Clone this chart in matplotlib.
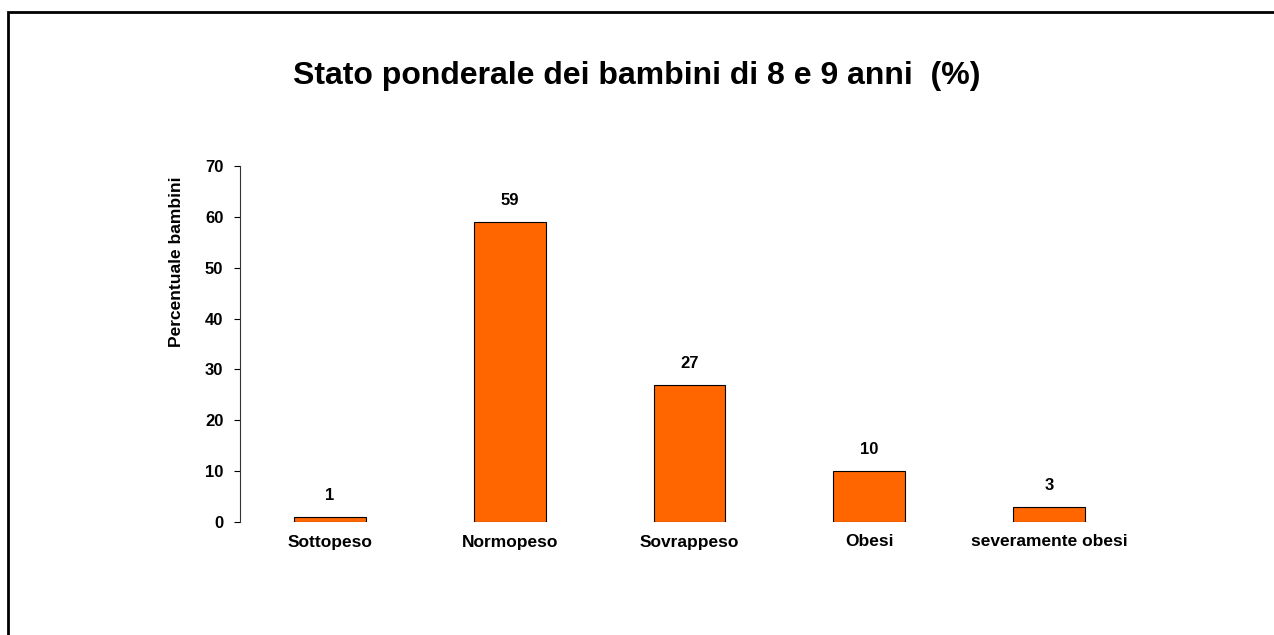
import matplotlib.pyplot as plt
from matplotlib.patches import Rectangle

categories = ['Sottopeso', 'Normopeso', 'Sovrappeso', 'Obesi', 'severamente obesi']
values = [1, 59, 27, 10, 3]

plt.rcParams['font.family'] = ['Liberation Sans', 'DejaVu Sans']

fig = plt.figure(figsize=(12.74, 6.35), dpi=100)
fig.patch.set_facecolor('white')

# cornice esterna (esce dal bordo a destra e in basso)
fig.patches.append(Rectangle((8 / 1274, -0.1), 1.2, 1 - 12 / 635 + 0.1,
                             transform=fig.transFigure, fill=False,
                             edgecolor='black', linewidth=2))

ax = fig.add_axes([240 / 1274, 1 - 522 / 635, 899 / 1274, 356 / 635])

x = range(len(categories))
bars = ax.bar(x, values, width=0.4, color='#FF6600', edgecolor='black', linewidth=0.8)

for b, v in zip(bars, values):
    ax.annotate(str(v), (b.get_x() + b.get_width() / 2, v),
                xytext=(0, 10), textcoords='offset points',
                ha='center', va='bottom', fontsize=12, fontweight='bold')

ax.set_xlim(-0.5, len(categories) - 0.5)
ax.set_ylim(0, 70)
ax.set_yticks(range(0, 71, 10))
ax.set_xticks(list(x))
ax.set_xticklabels(categories, fontsize=12.5, fontweight='bold')
ax.tick_params(axis='x', length=0, pad=9)
ax.tick_params(axis='y', direction='out', length=4, width=0.8, labelsize=12, pad=8)
for lbl in ax.get_yticklabels():
    lbl.set_fontweight('bold')

for s in ['top', 'right', 'bottom']:
    ax.spines[s].set_visible(False)
ax.spines['left'].set_linewidth(0.8)
ax.spines['left'].set_color('#333333')

ax.set_ylabel('Percentuale bambini', fontsize=12.5, fontweight='bold')
ax.yaxis.set_label_coords(-56 / 899, 0.73)

fig.text(0.5, 1 - 76 / 635, 'Stato ponderale dei bambini di 8 e 9 anni  (%)',
         ha='center', va='center', fontsize=23, fontweight='bold')

fig.savefig('out.png', dpi=100)
